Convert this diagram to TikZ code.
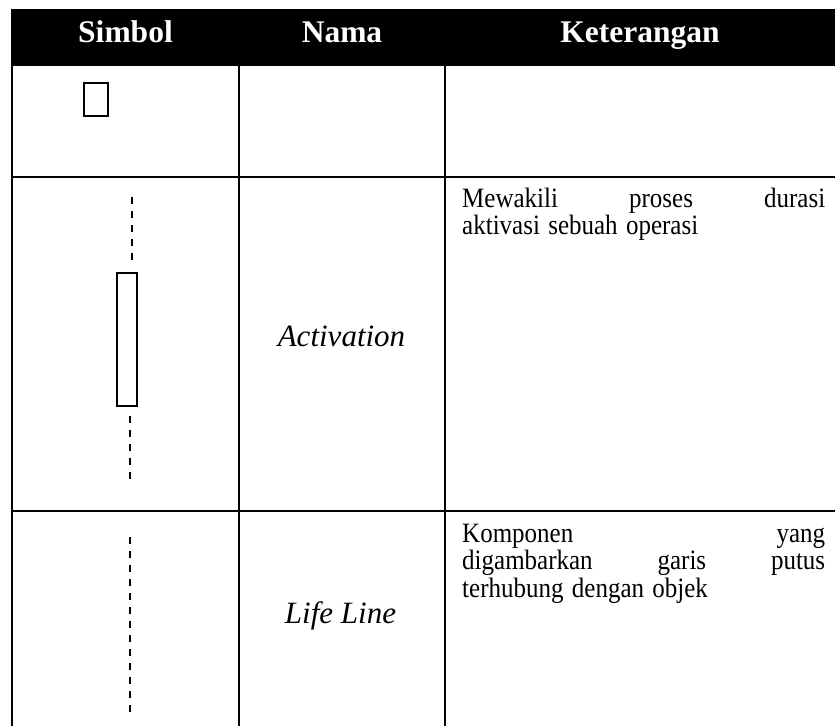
\documentclass[tikz,border=0pt]{standalone}
\usepackage{fontspec}
\usepackage{graphicx}
\setmainfont{Liberation Serif}
\newcommand{\tallline}[1]{\scalebox{1}[1.12]{#1}}
\begin{document}
\begin{tikzpicture}[x=1pt,y=-1pt,
  rule/.style={line width=2.2pt},
  sym/.style={draw,line width=1.5pt},
  dashln/.style={line width=1.6pt,dash pattern=on 7pt off 7pt},
  head/.style={text=white,font=\fontsize{31.5}{36}\selectfont\bfseries,inner sep=0pt,anchor=base},
  nm/.style={font=\fontsize{31}{36}\selectfont\itshape,inner sep=0pt,anchor=base},
  desc/.style={font=\fontsize{25}{27.7}\selectfont,inner sep=0pt,anchor=base west,text width=363pt,align=left}]
\useasboundingbox (0,0) rectangle (835,726);
% header band
\fill[black] (11,9) rectangle (835,66);
\node[head] (hsimbol) at (125.5,42) {Simbol};
\node[head] (hnama) at (342,42) {Nama};
\node[head] (hket) at (640,42) {Keterangan};
% grid
\draw[rule] (12,65) -- (12,726);
\draw[rule] (239,65) -- (239,726);
\draw[rule] (445,65) -- (445,726);
\draw[rule] (11,177) -- (835,177);
\draw[rule] (11,511) -- (835,511);
% row 1 symbol
\draw[sym] (84,83) rectangle (108,116);
% row 2 activation
\coordinate (a1) at (132,197);
\coordinate (a2) at (132,266);
\draw[dashln] (a1) -- (a2);
\draw[sym] (117,273) rectangle (137,406);
\coordinate (b1) at (130,416);
\coordinate (b2) at (130,482);
\draw[dashln] (b1) -- (b2);
\node[nm] (nact) at (341.5,346) {Activation};
\node[desc] (dact) at (462,207) {\tallline{\makebox[363pt]{Mewakili\hfill proses\hfill durasi}}\\\tallline{aktivasi sebuah operasi}};
% row 3 life line
\coordinate (l1) at (130,537);
\coordinate (l2) at (130,713);
\draw[dashln] (l1) -- (l2);
\node[nm] (nlife) at (340.5,623) {Life Line};
\node[desc] (dlife) at (462,542) {\tallline{\makebox[363pt]{Komponen\hfill yang}}\\\tallline{\makebox[363pt]{digambarkan\hfill garis\hfill putus}}\\\tallline{terhubung dengan objek}};
\end{tikzpicture}
\end{document}
